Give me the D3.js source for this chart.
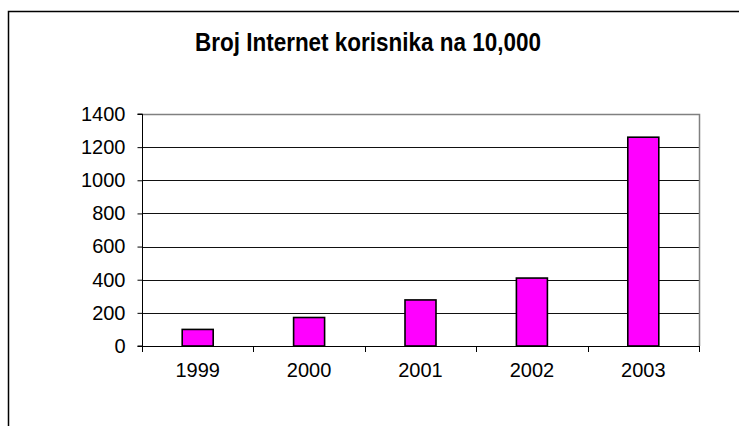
<!DOCTYPE html>
<html>
<head>
<meta charset="utf-8">
<script src="https://cdn.jsdelivr.net/npm/d3@7"></script>
<style>
  body { margin: 0; background: #fff; }
  text { font-family: Arial, "Liberation Sans", sans-serif; }
</style>
</head>
<body>
<script>
var years = ['1999', '2000', '2001', '2002', '2003']
var users = [100, 172, 278, 410, 1260]
var yTicks = [0, 200, 400, 600, 800, 1000, 1200, 1400]
var title = 'Broj Internet korisnika na 10,000'

var W = 739, H = 426
var plot = {left: 142, right: 699, top: 114, bottom: 346}

var svg = d3.select('body').append('svg')
	.attr('width', W)
	.attr('height', H)

// outer chart frame (only top and left edges visible)
svg.append('path')
	.attr('d', 'M8.5,426 V11.5 H739')
	.attr('fill', 'none')
	.attr('stroke', '#000')
	.attr('stroke-width', 1.5)

var x = d3.scaleBand().domain(years).range([plot.left, plot.right])
var y = d3.scaleLinear().domain([0, 1400]).range([plot.bottom, plot.top])

// title
svg.append('text')
	.attr('x', 368).attr('y', 51)
	.attr('text-anchor', 'middle')
	.attr('font-size', 26)
	.attr('font-weight', 'bold')
	.attr('textLength', 346)
	.attr('lengthAdjust', 'spacingAndGlyphs')
	.text(title)

// gridlines
svg.append('g')
	.selectAll('line').data(yTicks.filter(function(d){ return d > 0 && d < 1400 }))
	.enter().append('line')
	.attr('x1', plot.left).attr('x2', plot.right)
	.attr('y1', function(d){ return Math.round(y(d)) + 0.5 })
	.attr('y2', function(d){ return Math.round(y(d)) + 0.5 })
	.attr('stroke', '#111')
	.attr('stroke-width', 1)

// plot border top / right
svg.append('path')
	.attr('d', 'M' + plot.left + ',' + (plot.top + 0.5) + ' H' + (plot.right + 0.5) + ' V' + plot.bottom)
	.attr('fill', 'none')
	.attr('stroke', '#808080')
	.attr('stroke-width', 1.5)

// bars
var barW = 31
svg.append('g')
	.selectAll('rect').data(users)
	.enter().append('rect')
	.attr('x', function(d, i){ return x(years[i]) + x.bandwidth() / 2 - barW / 2 })
	.attr('y', function(d){ return y(d) })
	.attr('width', barW)
	.attr('height', function(d){ return plot.bottom - y(d) })
	.attr('fill', '#ff00ff')
	.attr('stroke', '#000')
	.attr('stroke-width', 1.6)

// y axis
var yAxis = d3.axisLeft(y).tickValues(yTicks).tickFormat(d3.format('d')).tickSize(5).tickPadding(12)
svg.append('g')
	.attr('transform', 'translate(' + (plot.left + 0.5) + ',0)')
	.call(yAxis)
	.call(function(g){
		g.select('.domain').attr('stroke', '#000').attr('d', 'M-5,' + plot.top + 'H0V' + plot.bottom + 'H-5')
		g.selectAll('.tick line').attr('stroke', '#000')
		g.selectAll('text').attr('font-size', 20).attr('fill', '#000')
			.attr('font-family', 'Arial, "Liberation Sans", sans-serif')
	})

// x axis
var xTicks = [plot.left].concat(years.map(function(d){ return x(d) + x.bandwidth() }))
var xa = svg.append('g')
xa.append('line')
	.attr('x1', plot.left).attr('x2', plot.right + 1)
	.attr('y1', plot.bottom + 0.5).attr('y2', plot.bottom + 0.5)
	.attr('stroke', '#000').attr('stroke-width', 1.2)
xa.selectAll('.xt').data(xTicks)
	.enter().append('line')
	.attr('x1', function(d){ return Math.round(d) + 0.5 })
	.attr('x2', function(d){ return Math.round(d) + 0.5 })
	.attr('y1', plot.bottom).attr('y2', plot.bottom + 6)
	.attr('stroke', '#000')
xa.selectAll('text').data(years)
	.enter().append('text')
	.attr('x', function(d){ return x(d) + x.bandwidth() / 2 })
	.attr('y', 377)
	.attr('text-anchor', 'middle')
	.attr('font-size', 20)
	.text(function(d){ return d })
</script>
</body>
</html>
